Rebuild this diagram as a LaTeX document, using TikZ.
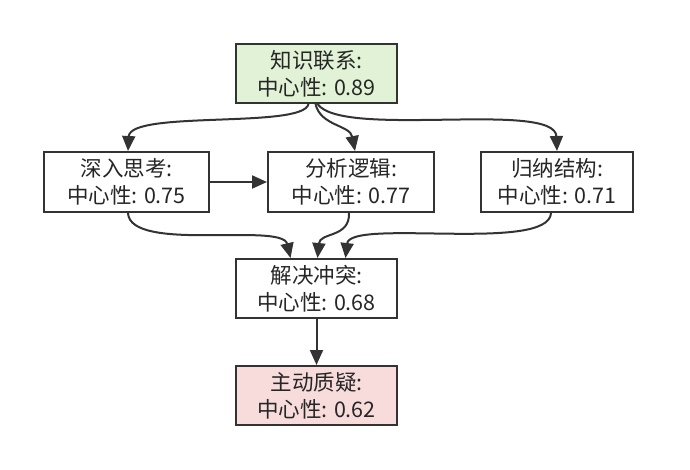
\documentclass[tikz,border=0pt]{standalone}
\usepackage{fontspec}
\setmainfont{Noto Sans CJK SC}
\usetikzlibrary{arrows.meta}
\definecolor{edgec}{HTML}{333333}
\definecolor{greenf}{HTML}{E2F2D6}
\definecolor{pinkf}{HTML}{F8DCDC}
\tikzset{
  box/.style={draw=edgec, line width=2pt, fill=white, align=center, inner sep=1pt,
    font=\fontsize{21.5pt}{27pt}\selectfont, text=black!85},
  conn/.style={draw=edgec, line width=2pt, -{Triangle[length=15pt,width=13pt]}},
}
\begin{document}
\begin{tikzpicture}[x=1pt,y=-1pt]
\useasboundingbox (0,0) rectangle (690,469);
\node[box, fill=greenf, minimum width=161pt, minimum height=59pt] (top) at (316.5,73.5) {知识联系:\\中心性: 0.89};
\node[box, minimum width=165pt, minimum height=60pt] (a) at (126.5,182) {深入思考:\\中心性: 0.75};
\node[box, minimum width=166pt, minimum height=60pt] (b) at (351,182) {分析逻辑:\\中心性: 0.77};
\node[box, minimum width=152pt, minimum height=60pt] (c) at (557,182) {归纳结构:\\中心性: 0.71};
\node[box, minimum width=161pt, minimum height=59pt] (d) at (316.5,288.5) {解决冲突:\\中心性: 0.68};
\node[box, fill=pinkf, minimum width=161pt, minimum height=59pt] (e) at (316.5,395.5) {主动质疑:\\中心性: 0.62};

\draw[conn] ([xshift=-8pt]top.south) .. controls +(-5,25) and (130,110) .. ([xshift=1.5pt]a.north);
\draw[conn] ([xshift=-1pt]top.south) .. controls +(5,22) and (350,125) .. ([xshift=4pt]b.north);
\draw[conn] ([xshift=1pt]top.south) .. controls +(25,35) and (555,100) .. (c.north);
\draw[conn] (a.east) -- (b.west);
\draw[conn] ([xshift=1.5pt]a.south) .. controls +(2,40) and (282,222) .. ([xshift=-26pt]d.north);
\draw[conn] ([xshift=-2pt]b.south) .. controls +(1,25) and (320,232) .. ([xshift=1pt]d.north);
\draw[conn] ([xshift=-6pt]c.south) .. controls +(-2,40) and (350,218) .. ([xshift=29pt]d.north);
\draw[conn] (d.south) -- (e.north);
\end{tikzpicture}
\end{document}
